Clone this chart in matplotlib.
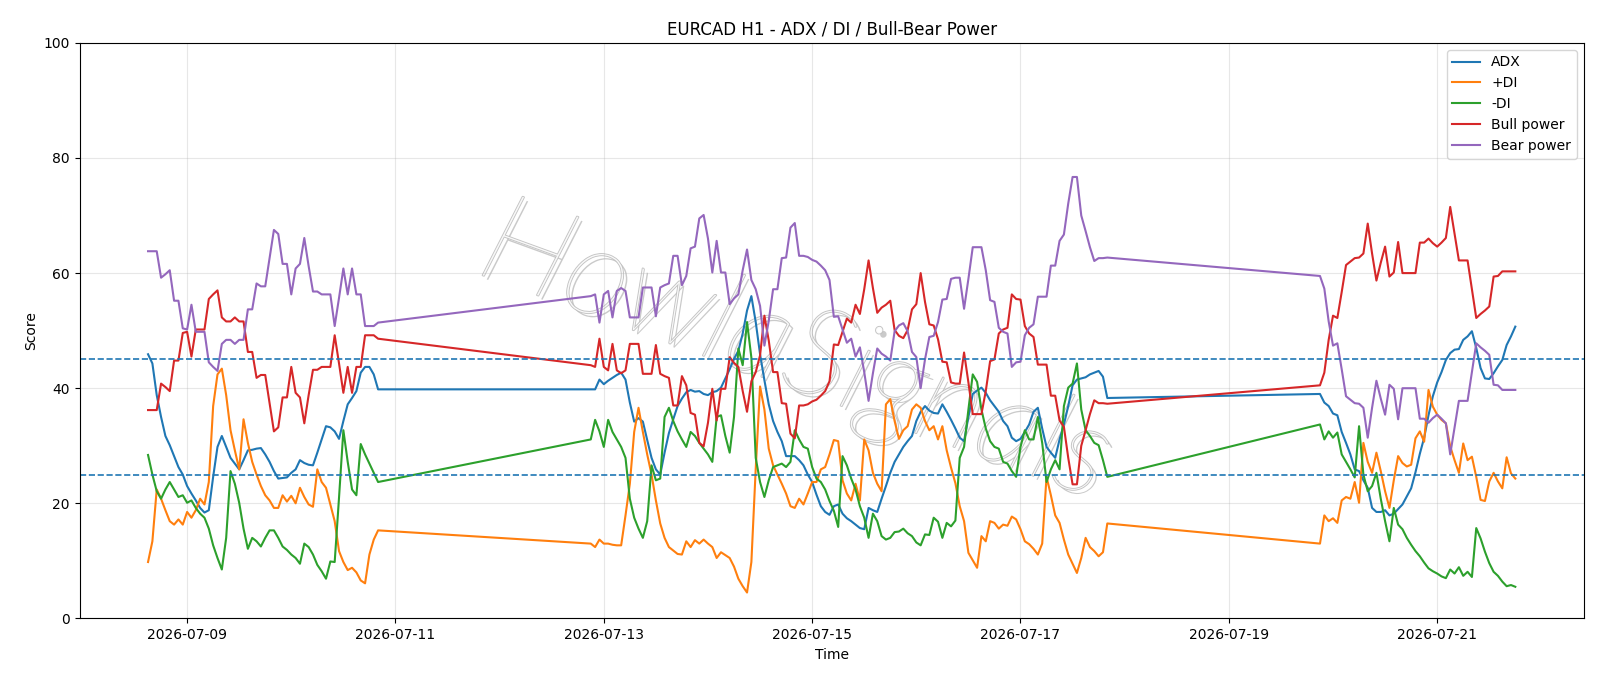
import numpy as np
import pandas as pd
import matplotlib
matplotlib.use("Agg")
import matplotlib.pyplot as plt
import matplotlib.dates as mdates
import matplotlib.patheffects as pe

# hourly bars, weekends are skipped -> three blocks
blocks = [("2026-07-08 15:00", "2026-07-10 20:00"),
          ("2026-07-12 21:00", "2026-07-17 20:00"),
          ("2026-07-19 21:00", "2026-07-21 18:00")]

adx = [
    # block 1
    45.9, 44.3, 38.8, 35.0, 31.7, 30.1, 28.2, 26.3, 25.0, 23.0,
    21.7, 20.5, 19.2, 18.4, 18.8, 24.6, 29.8, 31.7, 29.8, 27.9,
    26.9, 25.9, 27.5, 29.2, 29.3, 29.5, 29.6, 28.5, 27.2, 25.6,
    24.3, 24.4, 24.5, 25.3, 25.9, 27.5, 27.0, 26.7, 26.6, 28.8,
    31.1, 33.4, 33.2, 32.5, 31.2, 34.3, 37.2, 38.3, 39.5, 42.7,
    43.7, 43.7, 42.4, 39.8,
    # block 2
    39.8, 39.8, 41.5, 40.7, 41.3, 41.8, 42.3, 42.7, 41.5, 37.5,
    34.2, 34.8, 34.2, 31.0, 27.9, 25.9, 25.0, 28.8, 32.2, 34.6,
    36.9, 38.2, 39.3, 39.7, 39.4, 39.5, 39.0, 38.8, 39.3, 39.5,
    40.1, 41.7, 43.3, 45.1, 46.5, 49.5, 53.5, 56.0, 51.5, 45.9,
    41.4, 37.2, 34.3, 32.4, 30.8, 28.2, 28.2, 28.2, 27.5, 26.6,
    25.0, 23.7, 21.5, 19.5, 18.5, 18.0, 19.5, 19.8, 18.2, 17.4,
    16.9, 16.3, 15.7, 15.5, 19.2, 18.8, 18.5, 20.8, 23.0, 25.3,
    27.2, 28.5, 29.8, 30.8, 31.7, 34.3, 35.9, 36.9, 36.1, 35.7,
    35.6, 37.2, 35.9, 34.5, 33.0, 31.4, 30.8, 35.0, 39.0, 39.6,
    40.1, 39.2, 37.9, 36.9, 35.9, 34.3, 33.4, 31.4, 30.8, 31.2,
    32.4, 33.7, 35.9, 36.6, 33.0, 29.8, 28.8, 27.9, 31.1, 33.7,
    36.9, 40.5, 41.5, 41.7, 41.9, 42.4, 42.7, 43.0, 42.0, 38.3,
    # block 3
    39.0, 37.5, 36.9, 35.6, 35.3, 32.4, 30.5, 28.5, 25.9, 25.6,
    24.0, 22.7, 19.2, 18.5, 18.5, 18.8, 17.9, 18.2, 19.0, 19.8,
    21.2, 22.6, 25.4, 28.6, 31.4, 35.3, 38.6, 41.0, 42.8, 44.9,
    46.1, 46.7, 46.8, 48.4, 49.0, 49.9, 47.0, 43.5, 41.7, 41.6,
    42.6, 43.8, 44.9, 47.5, 49.0, 50.7,
]

plus_di = [
    9.8, 13.4, 22.4, 20.8, 18.8, 16.9, 16.3, 17.2, 16.3, 18.5,
    17.5, 18.8, 20.8, 19.8, 23.7, 36.9, 42.4, 43.4, 38.8, 32.7,
    29.2, 25.9, 34.6, 30.5, 27.2, 25.0, 23.0, 21.4, 20.5, 19.2,
    19.2, 21.4, 20.3, 21.3, 20.0, 22.7, 21.1, 19.8, 19.4, 25.9,
    23.7, 22.7, 19.8, 16.9, 11.7, 9.8, 8.4, 8.8, 8.0, 6.6,
    6.1, 11.1, 13.7, 15.3,
    13.0, 12.4, 13.7, 13.0, 13.0, 12.8, 12.7, 12.7, 17.9, 23.4,
    32.4, 36.6, 32.4, 28.5, 25.0, 20.5, 16.5, 14.0, 12.4, 11.8,
    11.2, 11.1, 13.4, 12.4, 13.6, 13.0, 13.7, 13.0, 12.4, 10.5,
    11.5, 11.0, 10.5, 9.0, 6.9, 5.6, 4.5, 9.8, 26.0, 40.3,
    36.3, 29.5, 26.6, 25.0, 23.4, 21.7, 19.5, 19.2, 20.8, 19.8,
    21.7, 23.7, 23.7, 25.9, 26.3, 28.5, 31.0, 30.8, 24.0, 21.7,
    20.5, 23.4, 20.5, 31.1, 29.2, 25.3, 23.4, 22.1, 37.2, 38.1,
    34.3, 31.2, 32.7, 33.4, 36.3, 37.2, 36.6, 34.3, 32.7, 33.4,
    31.1, 33.4, 29.2, 26.2, 23.5, 19.5, 16.9, 11.4, 10.1, 8.8,
    14.3, 13.4, 16.9, 16.6, 15.6, 16.3, 16.1, 17.7, 17.2, 15.5,
    13.4, 12.9, 12.1, 11.1, 13.0, 24.6, 21.4, 17.9, 16.6, 13.7,
    11.1, 9.5, 7.9, 10.5, 14.0, 12.4, 11.7, 10.8, 11.5, 16.5,
    13.0, 17.9, 16.9, 17.4, 16.6, 20.5, 21.1, 20.8, 23.7, 20.1,
    30.5, 27.2, 25.3, 28.8, 25.6, 22.1, 19.2, 24.0, 28.2, 27.0,
    26.4, 26.7, 31.3, 32.5, 30.7, 39.7, 36.8, 35.4, 34.5, 33.9,
    29.9, 27.5, 25.3, 30.4, 27.5, 28.1, 24.6, 20.6, 20.4, 23.8,
    25.3, 23.8, 22.6, 28.0, 25.2, 24.3,
]

minus_di = [
    28.4, 25.0, 22.1, 20.8, 22.4, 23.7, 22.4, 21.1, 21.4, 20.1,
    20.5, 19.2, 18.2, 17.5, 15.6, 12.7, 10.5, 8.5, 14.0, 25.6,
    23.4, 20.1, 15.6, 12.1, 14.0, 13.4, 12.5, 14.0, 15.3, 15.3,
    14.0, 12.5, 11.9, 11.1, 10.5, 9.5, 13.0, 12.4, 11.1, 9.3,
    8.2, 6.9, 9.9, 9.8, 21.0, 32.7, 27.2, 22.4, 21.4, 30.3,
    28.5, 26.9, 25.3, 23.7,
    31.1, 34.5, 32.5, 29.8, 34.5, 32.4, 31.1, 29.8, 27.9, 20.8,
    17.5, 15.6, 14.0, 16.9, 26.6, 24.0, 24.3, 35.0, 36.6, 34.3,
    32.5, 31.1, 29.8, 32.4, 31.7, 30.5, 29.5, 28.5, 27.2, 35.0,
    35.3, 31.7, 28.8, 35.0, 46.9, 44.0, 51.5, 45.3, 27.9, 23.7,
    21.1, 24.0, 26.3, 26.6, 26.9, 26.3, 27.2, 32.7, 31.1, 29.8,
    29.5, 26.3, 24.3, 23.7, 22.4, 20.4, 18.7, 15.9, 28.2, 26.6,
    24.3, 22.4, 19.5, 17.5, 14.0, 18.2, 16.9, 14.3, 13.7, 14.0,
    15.0, 15.1, 15.6, 14.8, 14.3, 13.2, 12.7, 14.6, 14.5, 17.5,
    16.8, 14.0, 16.6, 16.0, 17.0, 27.9, 29.8, 36.3, 42.4, 41.1,
    36.3, 33.0, 30.8, 29.8, 29.5, 27.2, 26.9, 25.6, 24.6, 29.8,
    32.7, 31.1, 31.1, 35.0, 30.5, 23.7, 25.9, 27.5, 25.9, 36.9,
    40.1, 40.8, 44.3, 36.3, 32.7, 31.7, 30.5, 30.1, 27.5, 24.6,
    33.7, 31.1, 32.5, 31.4, 32.3, 28.5, 27.2, 25.9, 24.5, 33.4,
    25.0, 22.1, 23.0, 25.3, 20.8, 16.9, 13.4, 19.2, 16.3, 15.5,
    14.0, 12.8, 11.7, 10.8, 9.7, 8.7, 8.2, 7.8, 7.3, 7.0,
    8.5, 7.8, 8.9, 7.4, 8.1, 7.2, 15.7, 13.9, 11.6, 9.6,
    8.1, 7.4, 6.4, 5.6, 5.8, 5.5,
]

bull_power = [
    36.2, 36.2, 36.2, 40.8, 40.2, 39.5, 44.8, 44.8, 49.6, 49.8,
    45.5, 50.2, 50.2, 50.2, 55.5, 56.3, 57.0, 52.3, 51.6, 51.6,
    52.3, 51.6, 51.6, 46.3, 46.3, 41.8, 42.3, 42.3, 37.4, 32.5,
    33.2, 38.4, 38.4, 43.7, 39.2, 38.4, 33.9, 38.8, 43.2, 43.2,
    43.7, 43.7, 43.7, 49.2, 44.3, 39.2, 43.7, 39.2, 43.7, 43.7,
    49.2, 49.2, 49.2, 48.6,
    44.0, 43.7, 48.6, 43.7, 43.1, 47.7, 43.1, 42.6, 43.1, 47.7,
    47.7, 47.7, 42.5, 42.5, 42.5, 47.5, 42.5, 42.1, 41.8, 37.0,
    37.0, 42.1, 40.5, 35.7, 35.4, 30.5, 29.9, 34.0, 39.9, 34.4,
    39.9, 39.9, 45.4, 44.4, 43.7, 39.5, 35.9, 41.2, 42.8, 45.7,
    52.6, 48.3, 42.8, 42.8, 37.4, 37.3, 32.1, 31.3, 37.0, 37.0,
    37.2, 37.7, 38.0, 38.7, 39.5, 41.2, 47.6, 47.5, 49.8, 52.1,
    51.4, 54.5, 52.9, 57.2, 62.2, 57.4, 53.1, 54.0, 54.5, 55.2,
    50.1, 49.1, 48.7, 50.1, 53.7, 54.6, 60.0, 55.0, 51.1, 50.9,
    48.5, 44.6, 44.5, 41.0, 40.8, 40.8, 46.2, 41.0, 35.5, 35.5,
    35.5, 39.5, 44.7, 45.0, 49.5, 50.2, 50.5, 56.3, 55.5, 55.4,
    50.8, 49.5, 48.9, 44.1, 44.1, 44.1, 38.7, 38.7, 34.4, 33.3,
    27.9, 23.3, 23.3, 30.0, 32.7, 35.5, 37.9, 37.4, 37.4, 37.3,
    40.5, 42.7, 48.4, 52.6, 52.2, 56.7, 61.4, 62.0, 62.6, 62.7,
    63.4, 68.6, 63.4, 58.7, 61.8, 64.6, 59.4, 60.1, 65.4, 60.0,
    60.0, 60.0, 60.0, 65.3, 65.3, 66.0, 65.2, 64.6, 65.3, 66.1,
    71.5, 66.8, 62.2, 62.2, 62.2, 57.2, 52.2, 52.9, 53.5, 54.2,
    59.4, 59.5, 60.3, 60.3, 60.3, 60.3,
]

bear_power = [
    63.8, 63.8, 63.8, 59.2, 59.8, 60.5, 55.2, 55.2, 50.4, 50.2,
    54.5, 49.8, 49.8, 49.8, 44.5, 43.7, 43.0, 47.7, 48.4, 48.4,
    47.7, 48.4, 48.4, 53.7, 53.7, 58.2, 57.7, 57.7, 62.6, 67.5,
    66.8, 61.6, 61.6, 56.3, 60.8, 61.6, 66.1, 61.2, 56.8, 56.8,
    56.3, 56.3, 56.3, 50.8, 55.7, 60.8, 56.3, 60.8, 56.3, 56.3,
    50.8, 50.8, 50.8, 51.4,
    56.0, 56.3, 51.4, 56.3, 56.9, 52.3, 56.9, 57.4, 56.9, 52.3,
    52.3, 52.3, 57.5, 57.5, 57.5, 52.5, 57.5, 57.9, 58.2, 63.0,
    63.0, 57.9, 59.5, 64.3, 64.6, 69.5, 70.1, 66.0, 60.1, 65.6,
    60.1, 60.1, 54.6, 55.6, 56.3, 60.5, 64.1, 58.8, 57.2, 54.3,
    47.4, 51.7, 57.2, 57.2, 62.6, 62.7, 67.9, 68.7, 63.0, 63.0,
    62.8, 62.3, 62.0, 61.3, 60.5, 58.8, 52.4, 52.5, 50.2, 47.9,
    48.6, 45.5, 47.1, 42.8, 37.8, 42.6, 46.9, 46.0, 45.5, 44.8,
    49.9, 50.9, 51.3, 49.9, 46.3, 45.4, 40.0, 45.0, 48.9, 49.1,
    51.5, 55.4, 55.5, 59.0, 59.2, 59.2, 53.8, 59.0, 64.5, 64.5,
    64.5, 60.5, 55.3, 55.0, 50.5, 49.8, 49.5, 43.7, 44.5, 44.6,
    49.2, 50.5, 51.1, 55.9, 55.9, 55.9, 61.3, 61.3, 65.6, 66.7,
    72.1, 76.7, 76.7, 70.0, 67.3, 64.5, 62.1, 62.6, 62.6, 62.7,
    59.5, 57.3, 51.6, 47.4, 47.8, 43.3, 38.6, 38.0, 37.4, 37.3,
    36.6, 31.4, 36.6, 41.3, 38.2, 35.4, 40.6, 39.9, 34.6, 40.0,
    40.0, 40.0, 40.0, 34.7, 34.7, 34.0, 34.8, 35.4, 34.7, 33.9,
    28.5, 33.2, 37.8, 37.8, 37.8, 42.8, 47.8, 47.1, 46.5, 45.8,
    40.6, 40.5, 39.7, 39.7, 39.7, 39.7,
]

levels = [45, 25]

times = pd.DatetimeIndex(np.concatenate(
    [pd.date_range(a, b, freq="h").values for a, b in blocks]))

series = [("ADX", adx), ("+DI", plus_di), ("-DI", minus_di),
          ("Bull power", bull_power), ("Bear power", bear_power)]
for name, vals in series:
    assert len(vals) == len(times), (name, len(vals), len(times))

fig, ax = plt.subplots(figsize=(16, 6.86), dpi=100)
fig.subplots_adjust(left=0.0498, right=0.9898, bottom=0.0985, top=0.9375)

for name, vals in series:
    ax.plot(times, vals, label=name, linewidth=1.5)

for lv in levels:
    ax.axhline(lv, color="tab:blue", linestyle="--", linewidth=1.2)

ax.set_ylim(0, 100)
ax.set_title("EURCAD H1 - ADX / DI / Bull-Bear Power")
ax.set_xlabel("Time")
ax.set_ylabel("Score")
ax.xaxis.set_major_locator(mdates.DayLocator(bymonthday=[9, 11, 13, 15, 17, 19, 21]))
ax.xaxis.set_major_formatter(mdates.DateFormatter("%Y-%m-%d"))
ax.grid(True, alpha=0.3)
ax.legend(loc="upper right")

# watermark, thin grey letters with a soft shadow
ax.text(0.476, 0.46, "HowlaSignals", transform=ax.transAxes, fontsize=90,
        family=["Lato", "DejaVu Sans"], fontweight="light", fontstyle="italic",
        color="white", alpha=0.9, rotation=-20, ha="center", va="center",
        zorder=0,
        path_effects=[pe.withSimplePatchShadow(offset=(3, -3), shadow_rgbFace="#8a8a8a", alpha=0.45),
                      pe.Stroke(linewidth=1.3, foreground="#bdbdbd"), pe.Normal()])

fig.savefig("out.png", dpi=100)
